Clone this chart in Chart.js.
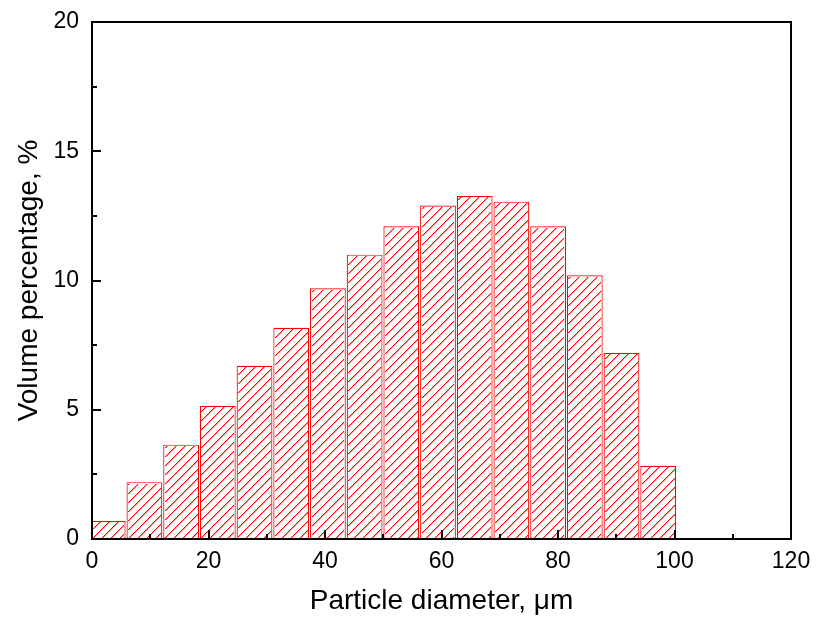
<!DOCTYPE html>
<html>
<head>
<meta charset="utf-8">
<script src="https://cdn.jsdelivr.net/npm/chart.js@4"></script>
<style>
  html, body { margin: 0; padding: 0; background: #fff; }
  #wrap { width: 816px; height: 618px; }
</style>
</head>
<body>
<div id="wrap"><canvas id="myChart" width="816" height="618"></canvas></div>
<script>
// bin centres (µm) and volume percentages
const diameters = [2.7, 9.0, 15.3, 21.6, 27.9, 34.2, 40.5, 46.8, 53.1, 59.4, 65.7, 72.0, 78.3, 84.6, 90.9, 97.2];
const volumePct = [0.7, 2.2, 3.65, 5.15, 6.7, 8.17, 9.7, 11.0, 12.1, 12.9, 13.27, 13.05, 12.1, 10.2, 7.2, 2.83];
const xTicks = [0, 20, 40, 60, 80, 100, 120];
const yTicks = [0, 5, 10, 15, 20];

const FONT = "'Liberation Sans', Arial, sans-serif";
const RED = 'rgb(255,0,0)';

const ctx = document.getElementById('myChart').getContext('2d');

// red "/" hatching inside every bar, drawn as crisp pixels from the bar elements' geometry
const hatch = {
  id: 'hatch',
  afterDatasetsDraw(chart) {
    const a = chart.chartArea;
    const c = chart.ctx;
    const gap = 9;
    c.save();
    chart.getDatasetMeta(0).data.forEach(bar => {
      const p = bar.getProps(['x', 'y', 'base', 'width'], true);
      const l = Math.ceil(Math.max(p.x - p.width / 2 + 1, a.left + 1));
      const r = Math.floor(p.x + p.width / 2 - 1);
      const t = Math.ceil(Math.min(p.y, p.base) + 1);
      const b = Math.floor(Math.max(p.y, p.base) - 1);
      for (let py = t; py < b; py++) {
        let px = l + ((gap - ((l + py) % gap)) % gap);
        for (; px < r; px += gap) {
          c.fillStyle = RED;
          c.fillRect(px, py, 1, 1);
          if (px + 1 < r) {
            c.fillStyle = 'rgba(255,0,0,0.4)';
            c.fillRect(px + 1, py, 1, 1);
          }
        }
      }
    });
    c.restore();
  }
};

const frame = {
  id: 'frame',
  afterDatasetsDraw(chart) {
    const a = chart.chartArea;
    const x = chart.scales.x, y = chart.scales.y;
    const c = chart.ctx;
    c.save();
    c.strokeStyle = '#000';
    c.lineWidth = 2;
    c.strokeRect(a.left, a.top, a.right - a.left, a.bottom - a.top);
    c.beginPath();
    for (let v = 10; v < 120; v += 10) {
      const px = Math.round(x.getPixelForValue(v));
      const len = v % 20 === 0 ? 9 : 5;
      c.moveTo(px, a.bottom); c.lineTo(px, a.bottom - len);
    }
    for (let v = 2.5; v < 20; v += 2.5) {
      const py = Math.round(y.getPixelForValue(v));
      const len = v % 5 === 0 ? 9 : 5;
      c.moveTo(a.left, py); c.lineTo(a.left + len, py);
    }
    c.stroke();
    c.restore();
  }
};

const data = {
  datasets: [{
    label: 'Volume percentage',
    data: diameters.map((d, i) => ({ x: d, y: volumePct[i] })),
    backgroundColor: '#fff',
    borderColor: RED,
    borderWidth: 1.2,
    borderSkipped: false,
    categoryPercentage: 1,
    barPercentage: 0.975,
    clip: 0
  }]
};

const config = {
  type: 'bar',
  data: data,
  options: {
    responsive: false,
    animation: false,
    layout: { padding: { top: 22, right: 25, left: 0, bottom: 0 } },
    plugins: { legend: { display: false }, tooltip: { enabled: false } },
    scales: {
      x: {
        type: 'linear',
        min: 0, max: 120,
        offset: false,
        afterBuildTicks: s => { s.ticks = xTicks.map(v => ({ value: v })); },
        afterFit: s => { s.height = 79; s.paddingLeft = 0; s.paddingRight = 0; },
        grid: { display: false, drawTicks: false },
        border: { display: false },
        ticks: { color: '#000', font: { family: FONT, size: 23 }, padding: 9, maxRotation: 0 },
        title: {
          display: true, text: 'Particle diameter, \u03bcm', color: '#000',
          font: { family: FONT, size: 28 }, padding: { top: 2, bottom: 0 }
        }
      },
      y: {
        min: 0, max: 20,
        afterBuildTicks: s => { s.ticks = yTicks.map(v => ({ value: v })); },
        afterFit: s => { s.width = 92; s.paddingTop = 0; s.paddingBottom = 0; },
        grid: { display: false, drawTicks: false },
        border: { display: false },
        ticks: { color: '#000', font: { family: FONT, size: 23 }, padding: 13 },
        title: {
          display: true, text: 'Volume percentage, %', color: '#000',
          font: { family: FONT, size: 28 }, padding: { top: 12, bottom: 0 }
        }
      }
    }
  },
  plugins: [hatch, frame]
};

const myChart = new Chart(ctx, config);
</script>
</body>
</html>
